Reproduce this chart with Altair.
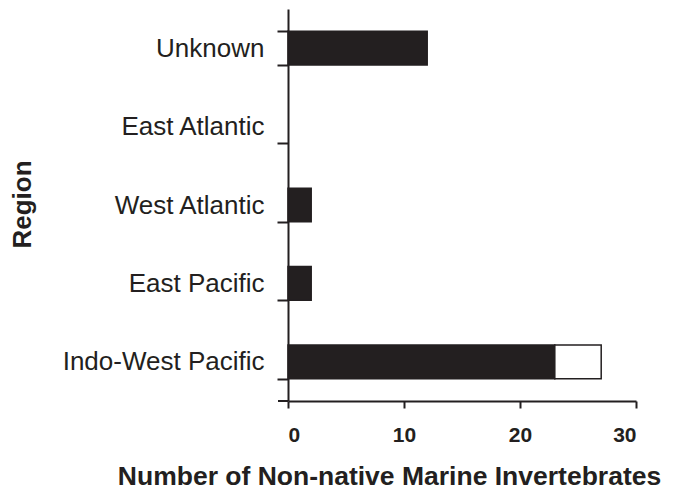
import altair as alt
import pandas as pd

regions = ["Unknown", "East Atlantic", "West Atlantic", "East Pacific", "Indo-West Pacific"]
black_values = [12, 0, 2, 2, 23]
white_values = [0, 0, 0, 0, 4]
series = ["A", "B"]

rows = []
for r, b, w in zip(regions, black_values, white_values):
    if b > 0:
        rows.append({"Region": r, "Series": series[0], "Value": b, "ord": 0})
    if w > 0:
        rows.append({"Region": r, "Series": series[1], "Value": w, "ord": 1})
df = pd.DataFrame(rows)

INK = "#231f20"
FONT = "Liberation Sans"
W, H = 348, 392

bars = alt.Chart(df).mark_bar(stroke=INK, strokeWidth=1.5).encode(
    x=alt.X("Value:Q", stack="zero",
            scale=alt.Scale(domain=[0, 30], nice=False),
            axis=alt.Axis(values=[0, 10, 20, 30], grid=False,
                          title="Number of Non-native Marine Invertebrates",
                          titleX=101, titleY=83, titleBaseline="alphabetic",
                          titleAnchor="middle", titleAlign="center", titleLimit=700,
                          titleFontSize=26.5, titleFontWeight="bold", titleFont=FONT,
                          labelFontSize=21, labelFontWeight="bold", labelFont=FONT,
                          labelPadding=16, tickSize=7, labelColor=INK, titleColor=INK)),
    y=alt.Y("Region:N", sort=regions,
            scale=alt.Scale(domain=regions, paddingInner=0.57, paddingOuter=0.285),
            axis=alt.Axis(title="Region", tickBand="extent", tickSize=11,
                          labelFontSize=26, labelFont=FONT, labelPadding=13, labelLimit=400,
                          titleX=-258, titleY=195, titleAngle=-90,
                          titleBaseline="alphabetic", titleAlign="center",
                          titleFontSize=26, titleFontWeight="bold", titleFont=FONT,
                          labelColor=INK, titleColor=INK)),
    color=alt.Color("Series:N", scale=alt.Scale(domain=series, range=[INK, "#ffffff"]), legend=None),
    order=alt.Order("ord:Q"),
)

ext = alt.Chart(pd.DataFrame({"a": [0]})).mark_rule(color=INK, strokeWidth=2, clip=False).encode(
    x=alt.value(-10), x2=alt.value(0), y=alt.value(H)
)

chart = alt.layer(bars, ext).properties(
    width=W, height=H,
    autosize=alt.AutoSizeParams(type="none"),
    padding={"left": 280, "top": 1, "right": 30, "bottom": 84},
).configure_axis(
    domainColor=INK, tickColor=INK, domainWidth=2, tickWidth=2,
).configure_view(stroke=None)

chart.save("out.html", embed_options={"renderer": "svg", "actions": False})
